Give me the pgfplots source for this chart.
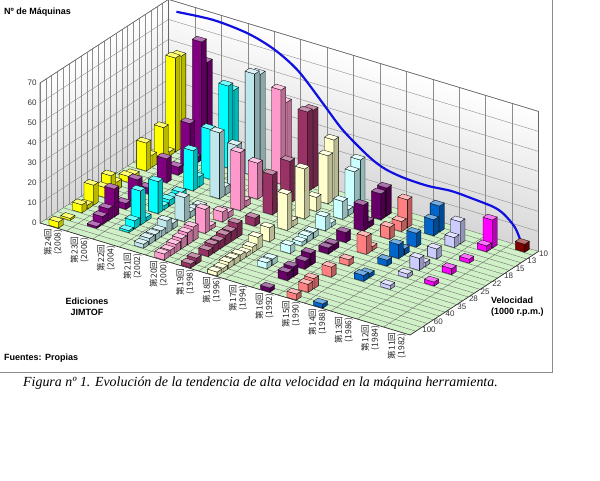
\documentclass[border=0pt]{standalone}
\usepackage{pgfplots}
\pgfplotsset{compat=1.18}
\usepackage{pgfplotstable}
\usepackage{fontspec}
\setmainfont{Liberation Sans}
\newfontfamily\jp{Noto Sans CJK JP}
\newfontfamily\capfont{Liberation Serif}
\usetikzlibrary{calc}

\definecolor{c0}{HTML}{FFFF00}
\definecolor{c1}{HTML}{800080}
\definecolor{c2}{HTML}{00FFFF}
\definecolor{c3}{HTML}{C0E8EC}
\definecolor{c4}{HTML}{FF99CC}
\definecolor{c5}{HTML}{993366}
\definecolor{c6}{HTML}{FFFFCC}
\definecolor{c7}{HTML}{CCFFFF}
\definecolor{c8}{HTML}{660066}
\definecolor{c9}{HTML}{FF8080}
\definecolor{c10}{HTML}{0066CC}
\definecolor{c11}{HTML}{CCCCFF}
\definecolor{c12}{HTML}{FF00FF}
\definecolor{c13}{HTML}{800000}
\definecolor{floorgreen}{HTML}{D0F0C8}
\definecolor{curveblue}{HTML}{1010E0}

% i = edition (0 = 24th/2008 ... 13 = 11th/1982), s = speed slot (0 = front/100 ... 21 = back/10), h = number of machines
\pgfplotstableread{
i s h
0 21 46
0 20 47
0 19 2
0 18 16
0 16 6
0 15 14
0 13 2
0 12 3
0 10 4
0 9 9
0 8 5
0 6 10
0 5 2
0 4 4
0 2 1
0 0 3
1 21 47
1 20 59
1 19 3
1 18 22
1 16 4
1 14 12
1 11 3
1 9 11
1 7 3
1 5 14
1 4 6
1 3 4
1 2 1
2 21 37
2 20 41
2 17 25
2 15 5
2 14 20
2 12 3
2 11 2
2 10 3
2 9 2
2 8 16
2 6 2
2 5 17
2 4 4
2 3 1
3 21 49
3 20 51
3 17 21
3 15 4
3 14 33
3 11 2
3 10 2
3 9 3
3 8 12
3 6 3
3 5 6
3 4 3
3 3 3
3 2 3
3 1 2
4 21 39
4 20 47
4 18 3
4 16 18
4 14 3
4 13 29
4 11 3
4 10 5
4 8 2
4 7 12
4 5 7
4 4 6
4 3 5
4 2 4
4 1 3
4 0 3
5 21 39
5 20 40
5 17 21
5 15 4
5 14 20
5 11 4
5 8 7
5 7 5
5 6 5
5 5 4
5 4 4
5 3 3
5 1 3
5 0 2
6 20 30
6 19 24
6 17 7
6 15 25
6 13 3
6 12 18
6 9 7
6 7 6
6 6 3
6 5 2
6 4 3
6 3 3
6 2 3
6 1 2
6 0 2
7 20 24
7 19 20
7 18 3
7 17 9
7 15 2
7 14 7
7 12 3
7 11 3
7 10 2
7 8 4
7 5 3
7 4 3
8 20 14
8 19 13
8 17 3
8 16 13
8 13 5
8 11 3
8 10 3
8 7 6
8 6 4
8 4 5
8 3 4
8 0 2
9 19 14
9 18 5
9 16 6
9 13 2
9 12 9
9 9 3
9 6 5
9 3 5
9 2 4
9 0 3
10 20 13
10 19 8
10 16 7
10 14 3
10 13 7
10 11 3
10 8 2
10 7 3
10 0 2
11 19 11
11 18 5
11 15 5
11 13 2
11 12 6
11 10 2
11 7 2
12 20 14
12 19 3
12 16 2
12 13 3
12 10 2
13 21 4
}\bars
\pgfplotstablegetrowsof{\bars}
\pgfmathtruncatemacro\nbars{\pgfplotsretval-1}

\begin{document}
\begin{tikzpicture}
\begin{axis}[
  x={(26.43pt,-8pt)}, y={(5.84pt,3.8pt)}, z={(0pt,2pt)},
  xmin=0,xmax=14,ymin=0,ymax=22,zmin=0,zmax=70,
  clip=false,
  axis line style={draw=none},
  major tick length=0pt,
  xtick={0.5,1.5,...,13.5},
  xticklabels={{第24回\\(2008)},{第23回\\(2006)},{第22回\\(2004)},{第21回\\(2002)},{第20回\\(2000)},{第19回\\(1998)},{第18回\\(1996)},{第17回\\(1994)},{第16回\\(1992)},{第15回\\(1990)},{第14回\\(1988)},{第13回\\(1986)},{第12回\\(1984)},{第11回\\(1982)}},
  ytick={1.5,3.5,...,21.5},
  yticklabels={100,60,40,35,28,25,22,18,15,13,10},
  ztick={0,10,...,70},
  /pgf/number format/assume math mode=true,
  x tick label style={font=\jp\fontsize{8.5}{9.5}\selectfont, rotate=90, anchor=east, align=center, inner sep=1.5pt, text=black!85},
  y tick label style={font=\fontsize{8}{9}\selectfont, anchor=west, text=black!80},
  z tick label style={font=\fontsize{8}{9}\selectfont, anchor=east, text=black!80},
  colormap={wall}{color=(black!16) color=(white)},
  point meta min=0, point meta max=70,
]
% walls
\addplot3[surf, shader=interp, draw=none] coordinates {
(0,0,0) (0,22,0)

(0,0,70) (0,22,70)
};
\addplot3[surf, shader=interp, draw=none] coordinates {
(0,22,0) (14,22,0)

(0,22,70) (14,22,70)
};
% wall grid
\pgfplotsinvokeforeach{0,1,...,22}{
  \addplot3[draw=black!45, line width=0.4pt] coordinates {(0,#1,0) (0,#1,70)};
}
\pgfplotsinvokeforeach{0,1,...,14}{
  \addplot3[draw=black!45, line width=0.4pt] coordinates {(#1,22,0) (#1,22,70)};
}
\pgfplotsinvokeforeach{10,20,...,70}{
  \addplot3[draw=black!45, line width=0.4pt] coordinates {(0,0,#1) (0,22,#1) (14,22,#1)};
}
% floor
\addplot3[fill=floorgreen, draw=none] coordinates {(0,0,0) (14,0,0) (14,22,0) (0,22,0) (0,0,0)};
\pgfplotsinvokeforeach{0,1,...,14}{
  \addplot3[draw=black!65, line width=0.3pt] coordinates {(#1,0,0) (#1,22,0)};
}
\pgfplotsinvokeforeach{0,1,...,22}{
  \addplot3[draw=black!65, line width=0.3pt] coordinates {(0,#1,0) (14,#1,0)};
}
% outlines
\addplot3[draw=black!60, line width=0.6pt] coordinates {(0,0,0) (0,0,70) (0,22,70) (14,22,70) (14,22,0)};
\addplot3[draw=black!60, line width=0.6pt] coordinates {(0,22,0) (0,22,70)};
\addplot3[draw=black!80, line width=0.6pt] coordinates {(0,0,0) (14,0,0) (14,22,0)};
% trend curve on back wall
\addplot3[draw=curveblue, line width=2.2pt, smooth] coordinates {
(0.3,22,65) (1.7,22,66.5) (3.0,22,65) (4.0,22,61) (4.9,22,54) (5.8,22,42) (6.6,22,31) (7.6,22,21.6) (8.2,22,18) (8.9,22,16.4) (9.8,22,16) (10.7,22,17) (11.5,22,16.4) (12.3,22,15.4) (12.7,22,13.3) (13.1,22,8.6) (13.3,22,3.3)
};
% bars
\pgfplotsforeachungrouped \rr in {0,...,\nbars}{
  \pgfplotstablegetelem{\rr}{i}\of\bars \let\bi\pgfplotsretval
  \pgfplotstablegetelem{\rr}{s}\of\bars \let\bs\pgfplotsretval
  \pgfplotstablegetelem{\rr}{h}\of\bars \let\bh\pgfplotsretval
  \pgfmathsetmacro\xa{\bi+0.32}
  \pgfmathsetmacro\xb{\bi+0.68}
  \pgfmathsetmacro\ya{\bs+0.1}
  \pgfmathsetmacro\yb{\bs+0.9}
  \edef\cmd{%
    \noexpand\addplot3[fill=c\bi, draw=black, line width=0.3pt] coordinates {(\xa,\ya,0) (\xb,\ya,0) (\xb,\ya,\bh) (\xa,\ya,\bh) (\xa,\ya,0)};
    \noexpand\addplot3[fill=c\bi!72!black, draw=black, line width=0.3pt] coordinates {(\xb,\ya,0) (\xb,\yb,0) (\xb,\yb,\bh) (\xb,\ya,\bh) (\xb,\ya,0)};
    \noexpand\addplot3[fill=c\bi!55!white, draw=black, line width=0.3pt] coordinates {(\xa,\ya,\bh) (\xb,\ya,\bh) (\xb,\yb,\bh) (\xa,\yb,\bh) (\xa,\ya,\bh)};
  }\cmd
}
\coordinate (O) at (axis cs:0,0,0);
\end{axis}
\begin{scope}[shift={($(O)+(-40pt,223pt)$)}, x=1pt, y=-1pt]
  \node[anchor=west, inner sep=0pt, font=\bfseries\fontsize{9}{10}\selectfont] at (4,12) {Nº de Máquinas};
  \node[align=center, inner sep=0pt, font=\bfseries\fontsize{9}{11}\selectfont] at (87,306.5) {Ediciones\\JIMTOF};
  \node[anchor=west, align=left, inner sep=0pt, font=\bfseries\fontsize{9}{11}\selectfont] at (491,306.5) {Velocidad\\(1000 r.p.m.)};
  \node[anchor=west, inner sep=0pt, font=\bfseries\fontsize{9}{10}\selectfont] at (4,358) {Fuentes: Propias};
  \draw[black!45, line width=1pt] (552,-5) -- (552,372) -- (-5,372);
  \node[anchor=west, inner sep=0pt, font=\capfont\itshape\fontsize{13.9}{16}\selectfont] at (23,383) {Figura nº 1. Evolución de la tendencia de alta velocidad en la máquina herramienta.};
\end{scope}
\pgfresetboundingbox
\path[use as bounding box] ($(O)+(-40pt,223pt)$) rectangle ($(O)+(560pt,-257pt)$);
\end{tikzpicture}
\end{document}
